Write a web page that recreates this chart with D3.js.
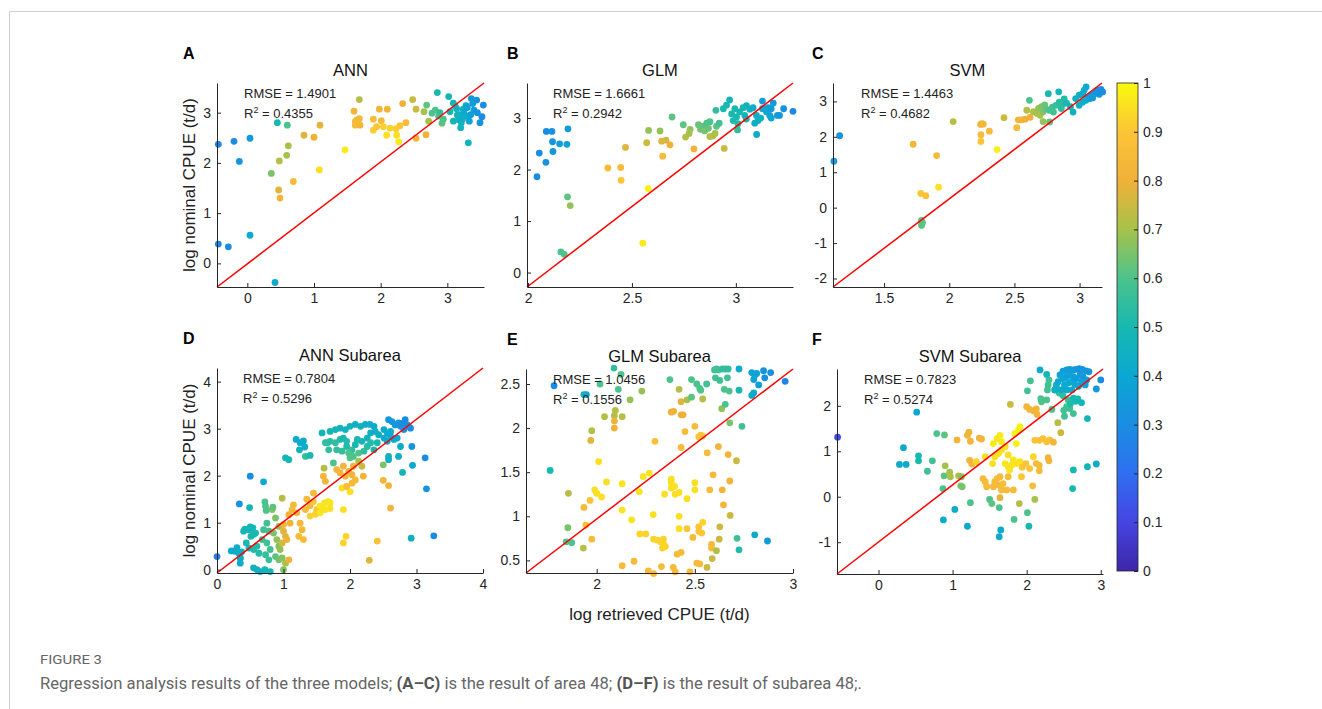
<!DOCTYPE html>
<html><head><meta charset="utf-8">
<script src="https://cdn.jsdelivr.net/npm/d3@7"></script>
<style>body{margin:0;background:#fff}svg{display:block}</style>
</head><body>
<svg id="chart" width="1322" height="709"></svg>
<script>
// ---------------- DATA ----------------
// each point: [retrieved (x), nominal (y), colour value]
const annPts = [[-0.435,2.37,0.28],[-0.435,0.385,0.28],[-0.285,0.33,0.3],[-0.2,2.43,0.3],[-0.12,2.03,0.33],[0.04,2.49,0.35],[0.04,0.56,0.42],[0.415,-0.38,0.42],[0.45,2.80,0.5],[0.6,2.75,0.6],[0.615,2.34,0.7],[0.59,2.15,0.7],[0.48,2.04,0.72],[0.36,1.79,0.65],[0.47,1.46,0.78],[0.49,1.30,0.82],[0.69,1.63,0.85],[0.85,2.55,0.78],[1.0,2.51,0.8],[1.09,2.75,0.78],[1.08,1.86,0.95],[1.465,2.26,0.97],[1.6,3.03,0.82],[1.68,3.26,0.72],[1.64,2.85,0.82],[1.68,2.88,0.84],[1.62,2.75,0.85],[1.69,2.75,0.83],[1.62,2.82,0.84],[1.89,2.87,0.85],[1.98,3.07,0.82],[2.1,3.07,0.82],[2.01,2.84,0.85],[1.89,2.65,0.92],[1.94,2.72,0.9],[2.04,2.72,0.92],[2.14,2.69,0.93],[2.23,2.68,0.92],[2.29,2.74,0.9],[2.09,2.55,0.95],[2.24,2.55,0.95],[2.27,2.42,0.97],[2.38,2.80,0.85],[2.33,3.18,0.8],[2.48,3.26,0.74],[2.53,3.07,0.75],[2.53,2.49,0.82],[2.68,2.56,0.8],[2.65,3.02,0.7],[2.69,3.15,0.62],[2.72,2.83,0.7],[2.82,3.05,0.6],[2.85,3.40,0.5],[2.87,2.93,0.6],[2.92,2.79,0.62],[2.94,2.87,0.6],[3.02,3.32,0.48],[3.09,3.19,0.48],[3.04,3.02,0.5],[3.14,3.08,0.46],[3.19,2.96,0.45],[3.17,2.86,0.45],[3.24,3.07,0.44],[3.21,2.8,0.47],[3.29,2.93,0.44],[3.09,2.83,0.48],[3.2,2.7,0.46],[3.315,2.40,0.46],[3.36,3.28,0.33],[3.44,3.25,0.32],[3.54,3.15,0.3],[3.52,2.92,0.3],[3.49,2.80,0.32],[3.4,3.05,0.35],[3.35,2.96,0.36],[3.33,2.83,0.38],[3.28,3.14,0.4],[2.89,3.0,0.55],[2.77,2.99,0.6],[3.12,3.12,0.46],[3.25,3.0,0.42],[3.3,3.1,0.38],[3.45,3.0,0.33],[3.38,3.18,0.36],[3.15,2.95,0.47],[3.23,2.88,0.43]];

const glmPts = [[2.043,1.86,0.3],[2.054,2.32,0.3],[2.086,2.14,0.32],[2.088,2.74,0.3],[2.115,2.74,0.32],[2.118,2.54,0.33],[2.12,2.35,0.34],[2.152,2.50,0.36],[2.187,2.49,0.38],[2.192,2.79,0.35],[2.19,1.47,0.62],[2.203,1.30,0.68],[2.158,0.40,0.6],[2.174,0.355,0.6],[2.384,2.03,0.85],[2.446,2.04,0.85],[2.448,1.79,0.9],[2.469,2.43,0.78],[2.552,0.57,0.97],[2.578,1.63,0.98],[2.571,2.52,0.75],[2.58,2.76,0.68],[2.635,2.75,0.68],[2.643,2.55,0.78],[2.648,2.26,0.85],[2.664,2.57,0.76],[2.683,2.48,0.8],[2.693,3.02,0.62],[2.747,2.87,0.62],[2.758,2.63,0.72],[2.78,2.78,0.68],[2.775,2.70,0.7],[2.798,2.40,0.82],[2.82,2.87,0.63],[2.83,2.78,0.64],[2.845,2.84,0.62],[2.85,2.75,0.65],[2.86,2.9,0.6],[2.868,2.8,0.63],[2.875,2.93,0.6],[2.875,2.64,0.72],[2.89,2.65,0.72],[2.9,2.7,0.7],[2.907,2.84,0.62],[2.92,2.9,0.58],[2.904,3.15,0.55],[2.94,3.18,0.5],[2.944,2.41,0.75],[2.955,3.25,0.5],[2.97,3.35,0.48],[2.98,3.08,0.5],[2.987,2.95,0.52],[3.003,3.02,0.5],[3.01,2.89,0.52],[3.018,3.12,0.5],[2.995,3.18,0.5],[3.035,3.2,0.48],[3.043,3.05,0.48],[3.051,3.24,0.46],[3.067,3.17,0.46],[3.008,2.77,0.55],[3.083,3.2,0.44],[3.099,3.05,0.44],[3.107,2.95,0.44],[3.091,2.9,0.43],[3.128,3.33,0.35],[3.1,2.68,0.42],[3.128,3.18,0.4],[3.147,3.12,0.4],[3.163,3.05,0.38],[3.155,3.2,0.38],[3.17,3.0,0.4],[3.18,3.29,0.35],[3.17,3.18,0.35],[3.2,3.05,0.36],[3.21,3.05,0.34],[3.23,3.18,0.32],[3.275,3.13,0.28],[3.05,2.98,0.47],[3.12,3.0,0.45]];

const svmPts = [[1.115,1.31,0.35],[1.159,2.03,0.32],[1.723,1.79,0.83],[1.782,0.40,0.9],[1.82,0.34,0.88],[1.787,-0.36,0.62],[1.787,-0.50,0.62],[1.795,-0.42,0.62],[1.903,1.47,0.85],[1.918,0.58,0.95],[2.03,2.43,0.72],[2.241,2.35,0.82],[2.251,2.37,0.82],[2.262,2.36,0.83],[2.243,2.06,0.85],[2.243,1.87,0.9],[2.308,2.16,0.85],[2.367,1.64,0.98],[2.42,2.54,0.75],[2.518,2.26,0.85],[2.53,2.48,0.82],[2.556,2.48,0.82],[2.582,2.5,0.8],[2.62,2.55,0.8],[2.615,3.03,0.6],[2.595,2.75,0.72],[2.646,2.71,0.7],[2.672,2.66,0.7],[2.685,2.8,0.68],[2.697,2.61,0.7],[2.72,2.71,0.66],[2.708,2.85,0.66],[2.733,2.9,0.64],[2.72,2.43,0.68],[2.77,2.42,0.62],[2.76,3.22,0.5],[2.84,3.27,0.48],[2.741,2.79,0.62],[2.767,2.75,0.6],[2.792,2.84,0.58],[2.818,2.89,0.56],[2.844,2.98,0.54],[2.869,2.93,0.54],[2.882,3.07,0.52],[2.95,2.70,0.45],[2.97,3.08,0.45],[2.997,3.18,0.44],[3.023,3.22,0.42],[3.036,3.32,0.42],[3.05,3.41,0.42],[3.062,3.13,0.35],[3.087,3.18,0.34],[3.113,3.22,0.33],[3.126,3.27,0.32],[3.138,3.32,0.32],[3.164,3.34,0.3],[3.177,3.27,0.3],[3.151,3.2,0.32],[2.997,2.89,0.44],[3.023,2.98,0.43],[3.049,3.03,0.42],[2.9,2.95,0.5],[2.93,2.85,0.48],[3.08,3.08,0.38],[3.1,3.1,0.36],[2.8,2.7,0.58],[2.86,2.8,0.54]];

const annSubPts = [[0,0.28,0.25],[0.215,0.40,0.4],[0.27,0.39,0.42],[0.33,0.35,0.42],[0.35,0.25,0.42],[0.35,0.14,0.42],[0.336,1.40,0.32],[0.50,1.99,0.3],[0.70,1.87,0.4],[0.49,1.32,0.48],[0.40,0.82,0.48],[0.48,0.85,0.48],[0.54,0.89,0.5],[0.51,0.71,0.5],[0.58,0.78,0.5],[0.44,0.57,0.5],[0.48,0.46,0.5],[0.55,0.43,0.52],[0.60,0.50,0.52],[0.63,0.35,0.52],[0.55,0.04,0.45],[0.60,0.0,0.45],[0.65,-0.04,0.45],[0.72,0.0,0.48],[0.80,-0.04,0.48],[0.70,0.85,0.58],[0.75,0.99,0.58],[0.78,0.82,0.58],[0.68,0.64,0.56],[0.75,0.57,0.58],[0.80,0.43,0.58],[0.73,0.32,0.56],[0.78,0.21,0.56],[0.73,1.35,0.6],[0.83,1.28,0.68],[0.88,1.10,0.65],[0.93,0.92,0.68],[0.85,0.78,0.65],[0.90,0.64,0.68],[0.93,0.50,0.66],[0.95,0.43,0.68],[0.88,0.28,0.62],[0.93,0.21,0.64],[0.98,0.25,0.66],[1.03,0.14,0.7],[1.00,0.0,0.66],[1.0,0.82,0.78],[1.03,0.71,0.78],[1.05,0.64,0.8],[0.98,0.57,0.76],[0.98,1.52,0.72],[1.0,0.96,0.82],[1.08,1.17,0.82],[1.10,0.99,0.82],[1.13,1.28,0.84],[1.15,1.38,0.84],[1.20,1.21,0.84],[1.25,0.99,0.84],[1.28,0.85,0.84],[1.23,0.71,0.85],[1.30,0.64,0.85],[1.08,0.21,0.8],[1.19,2.77,0.42],[1.25,2.70,0.42],[1.24,2.55,0.45],[1.03,2.38,0.48],[1.08,2.34,0.48],[1.33,2.41,0.55],[1.3,2.74,0.42],[1.32,2.61,0.44],[1.4,2.43,0.5],[0.72,1.44,0.6],[0.74,1.26,0.6],[0.84,1.33,0.62],[0.42,0.86,0.48],[0.5,0.91,0.48],[0.55,0.75,0.5],[0.3,0.47,0.44],[0.32,0.38,0.44],[0.37,0.38,0.44],[0.35,0.24,0.44],[1.35,1.50,0.85],[1.40,1.36,0.86],[1.33,1.28,0.85],[1.45,1.45,0.9],[1.50,1.28,0.9],[1.45,1.63,0.85],[1.40,1.14,0.92],[1.48,1.18,0.92],[1.55,1.35,0.96],[1.60,1.28,0.96],[1.62,1.42,0.96],[1.67,1.45,0.96],[1.70,1.42,0.96],[1.63,1.28,0.96],[1.55,1.21,0.96],[1.70,1.30,0.95],[1.58,2.91,0.48],[1.61,2.16,0.72],[1.60,1.99,0.82],[1.63,1.88,0.82],[1.75,2.27,0.6],[1.66,2.70,0.52],[1.68,2.55,0.55],[1.63,2.70,0.55],[1.70,2.73,0.54],[1.78,2.70,0.55],[1.85,2.77,0.52],[1.90,2.80,0.5],[1.95,2.73,0.52],[1.70,2.94,0.48],[1.78,2.98,0.48],[1.85,3.01,0.47],[1.93,2.98,0.46],[2.0,3.05,0.46],[2.08,3.09,0.45],[2.16,3.05,0.45],[2.23,3.09,0.44],[2.30,3.09,0.43],[2.36,3.05,0.42],[1.80,2.55,0.55],[1.88,2.52,0.55],[1.95,2.62,0.52],[2.03,2.55,0.55],[2.08,2.66,0.5],[2.11,2.77,0.5],[2.18,2.73,0.48],[2.26,2.80,0.46],[2.31,2.91,0.45],[2.38,2.94,0.44],[2.43,2.87,0.44],[2.51,2.98,0.42],[2.56,2.91,0.42],[2.61,2.94,0.42],[1.98,2.48,0.6],[2.0,2.38,0.6],[2.05,2.41,0.6],[2.13,2.48,0.6],[2.21,2.52,0.55],[2.26,2.62,0.53],[2.31,2.70,0.52],[2.36,2.55,0.5],[2.41,2.70,0.5],[2.51,2.80,0.42],[2.56,2.73,0.42],[2.61,2.84,0.4],[2.66,2.77,0.4],[2.71,2.80,0.4],[2.58,3.19,0.34],[2.63,3.15,0.33],[2.68,3.08,0.33],[2.73,3.12,0.32],[2.76,3.05,0.32],[2.81,3.12,0.3],[2.86,3.08,0.3],[2.88,3.05,0.3],[2.81,2.98,0.32],[2.91,3.01,0.3],[2.83,3.19,0.3],[2.76,2.62,0.42],[2.73,2.41,0.45],[2.58,2.41,0.45],[2.58,2.34,0.45],[2.93,2.62,0.33],[2.94,2.22,0.4],[2.79,2.07,0.48],[3.13,2.38,0.3],[3.15,1.72,0.32],[3.26,0.72,0.3],[2.92,0.67,0.45],[2.5,1.9,0.82],[2.58,1.79,0.82],[2.61,1.31,0.82],[2.41,0.61,0.88],[2.29,0.2,0.78],[2.5,2.23,0.65],[1.9,1.28,0.95],[1.9,0.57,0.93],[1.94,0.71,0.93],[2.0,1.66,0.95],[1.88,1.74,0.95],[1.8,2.13,0.82],[1.85,2.06,0.82],[1.9,2.2,0.82],[1.93,1.99,0.82],[1.98,2.09,0.82],[2.03,2.02,0.82],[2.05,2.2,0.82],[2.03,1.84,0.84],[2.08,1.91,0.84],[1.95,1.77,0.86],[2.18,2.2,0.75],[2.13,2.31,0.7],[2.2,1.99,0.82]];

const glmSubPts = [[1.763,1.52,0.5],[1.783,2.48,0.3],[1.856,1.26,0.72],[1.853,0.87,0.65],[1.845,0.71,0.6],[1.873,0.70,0.6],[1.932,0.64,0.72],[1.935,2.38,0.45],[1.948,2.38,0.42],[1.935,1.1,0.85],[1.945,0.9,0.88],[1.966,1.18,0.9],[1.975,0.74,0.85],[1.97,1.86,0.78],[1.975,1.97,0.72],[1.99,1.3,0.95],[2.0,1.26,0.95],[2.025,1.22,0.95],[2.01,1.62,0.95],[2.017,2.5,0.6],[2.04,2.13,0.72],[2.09,2.14,0.72],[2.05,1.39,0.95],[2.088,2.68,0.55],[2.095,2.2,0.72],[2.09,2.08,0.8],[2.09,2.0,0.8],[2.11,2.44,0.6],[2.124,2.61,0.6],[2.13,2.13,0.72],[2.13,1.07,0.96],[2.13,1.37,0.96],[2.17,2.32,0.68],[2.178,0.96,0.96],[2.19,0.49,0.85],[2.13,0.44,0.85],[2.22,0.8,0.93],[2.25,0.8,0.93],[2.23,2.42,0.68],[2.237,1.45,0.96],[2.268,1.49,0.96],[2.217,1.28,0.96],[2.263,0.38,0.85],[2.29,0.35,0.85],[2.297,1.85,0.88],[2.288,1.02,0.95],[2.29,0.74,0.93],[2.31,0.73,0.93],[2.325,0.71,0.93],[2.34,0.74,0.93],[2.35,0.66,0.93],[2.335,0.64,0.93],[2.34,0.69,0.93],[2.33,0.43,0.85],[2.38,2.18,0.8],[2.392,2.19,0.8],[2.373,2.55,0.6],[2.38,1.38,0.95],[2.38,1.32,0.95],[2.397,1.34,0.95],[2.346,1.25,0.95],[2.38,1.42,0.95],[2.4,1.25,0.95],[2.42,1.27,0.95],[2.42,2.44,0.72],[2.43,2.3,0.78],[2.43,2.15,0.8],[2.44,2.15,0.8],[2.43,1.78,0.85],[2.42,1.0,0.95],[2.42,0.86,0.95],[2.41,0.57,0.85],[2.43,0.59,0.85],[2.39,0.42,0.85],[2.40,0.37,0.85],[2.45,1.96,0.85],[2.46,2.32,0.7],[2.46,1.2,0.95],[2.46,0.86,0.9],[2.475,0.37,0.85],[2.483,2.35,0.62],[2.483,2.55,0.6],[2.5,1.38,0.95],[2.5,1.3,0.95],[2.5,2.02,0.85],[2.51,2.5,0.6],[2.525,2.45,0.6],[2.53,2.43,0.6],[2.51,0.47,0.85],[2.525,0.46,0.85],[2.49,0.76,0.85],[2.52,0.88,0.9],[2.52,0.83,0.9],[2.535,0.81,0.9],[2.52,1.9,0.9],[2.53,1.92,0.9],[2.54,1.91,0.9],[2.54,2.33,0.72],[2.54,0.93,0.93],[2.56,2.5,0.58],[2.563,1.72,0.85],[2.562,0.42,0.75],[2.576,1.3,0.85],[2.585,0.64,0.85],[2.585,0.68,0.85],[2.593,1.47,0.85],[2.588,0.52,0.75],[2.6,2.66,0.58],[2.61,2.67,0.58],[2.62,2.66,0.58],[2.605,2.57,0.58],[2.61,0.61,0.72],[2.62,1.79,0.82],[2.627,2.54,0.58],[2.637,2.22,0.68],[2.64,2.67,0.55],[2.655,2.67,0.55],[2.67,2.67,0.55],[2.64,1.3,0.82],[2.627,0.88,0.75],[2.624,0.74,0.75],[2.646,1.13,0.82],[2.65,2.44,0.6],[2.675,2.42,0.6],[2.655,2.27,0.6],[2.666,2.57,0.58],[2.67,1.7,0.82],[2.678,2.06,0.65],[2.68,1.01,0.75],[2.678,1.4,0.82],[2.712,1.63,0.75],[2.715,0.75,0.58],[2.725,0.62,0.52],[2.725,2.43,0.5],[2.725,2.67,0.42],[2.74,2.02,0.58],[2.79,2.37,0.42],[2.8,2.4,0.42],[2.79,2.63,0.38],[2.805,2.6,0.38],[2.815,2.62,0.38],[2.8,2.55,0.38],[2.825,2.49,0.36],[2.805,0.79,0.42],[2.85,2.65,0.32],[2.856,2.57,0.32],[2.886,2.63,0.32],[2.87,0.72,0.35],[2.96,2.53,0.28]];

const svmSubPts = [[-0.552,1.31,0.12],[0.516,1.86,0.4],[0.337,1.08,0.42],[0.283,0.71,0.42],[0.373,0.71,0.42],[0.54,0.9,0.5],[0.54,0.79,0.5],[0.66,0.56,0.58],[0.727,0.79,0.58],[0.786,1.39,0.6],[0.89,1.36,0.62],[0.9,0.68,0.7],[0.885,0.46,0.62],[0.87,0.18,0.6],[0.876,-0.51,0.42],[0.96,0.54,0.7],[0.97,0.44,0.7],[1.03,-0.28,0.42],[1.06,1.25,0.82],[1.08,0.46,0.72],[1.12,0.44,0.65],[1.13,0.22,0.65],[1.11,0.24,0.65],[1.2,-0.65,0.42],[1.24,-0.13,0.6],[1.2,1.35,0.82],[1.24,1.22,0.82],[1.22,1.42,0.82],[1.36,1.29,0.82],[1.39,1.27,0.82],[1.23,0.8,0.82],[1.26,0.72,0.82],[1.32,0.77,0.93],[1.41,0.4,0.85],[1.44,0.33,0.85],[1.46,0.22,0.85],[1.44,0.88,0.95],[1.5,-0.06,0.6],[1.53,-0.15,0.62],[1.55,0.22,0.85],[1.6,0.4,0.85],[1.64,0.44,0.85],[1.62,0.26,0.85],[1.66,0.15,0.85],[1.68,0.29,0.85],[1.57,0.33,0.85],[1.54,0.73,0.95],[1.57,0.88,0.95],[1.62,0.95,0.95],[1.66,1.03,0.95],[1.71,1.1,0.95],[1.75,0.92,0.95],[1.55,1.17,0.97],[1.6,1.28,0.97],[1.64,1.35,0.97],[1.66,1.21,0.97],[1.64,-0.02,0.78],[1.63,-0.24,0.6],[1.65,-0.73,0.42],[1.63,-0.88,0.42],[1.71,0.73,0.96],[1.75,0.66,0.96],[1.8,0.7,0.96],[1.82,0.81,0.96],[1.86,0.73,0.96],[1.91,0.77,0.96],[1.77,0.59,0.96],[1.75,0.44,0.85],[1.73,0.15,0.85],[1.82,0.15,0.85],[1.78,2.03,0.75],[1.83,-0.5,0.6],[1.86,1.17,0.98],[1.89,1.47,0.98],[1.91,1.54,0.98],[1.84,1.39,0.98],[1.9,-0.15,0.72],[1.93,0.44,0.9],[1.94,0.65,0.9],[1.99,0.73,0.9],[2.04,0.62,0.9],[2.0,1.98,0.82],[2.04,1.92,0.82],[2.09,1.89,0.82],[2.13,1.93,0.82],[2.14,1.81,0.82],[2.01,-0.35,0.6],[2.03,-0.65,0.5],[2.08,0.24,0.85],[2.09,0.88,0.93],[2.11,1.24,0.88],[2.17,1.24,0.88],[2.22,1.28,0.88],[2.27,1.21,0.88],[2.31,1.25,0.88],[2.11,-0.06,0.7],[2.13,0.73,0.85],[2.17,0.69,0.85],[2.17,0.57,0.85],[2.18,2.79,0.42],[2.2,2.09,0.6],[2.27,2.13,0.6],[2.19,2.16,0.6],[2.29,0.86,0.82],[2.3,0.79,0.82],[2.36,1.2,0.82],[2.28,2.35,0.58],[2.29,2.46,0.58],[2.3,2.57,0.58],[2.27,2.69,0.48],[2.05,2.55,0.58],[2.01,2.33,0.58],[2.34,1.92,0.6],[2.38,2.35,0.55],[2.4,2.41,0.55],[2.44,2.28,0.55],[2.49,2.22,0.55],[2.42,1.63,0.72],[2.46,1.41,0.75],[2.5,1.9,0.58],[2.54,1.98,0.58],[2.58,1.94,0.58],[2.63,1.83,0.58],[2.56,2.13,0.58],[2.51,1.77,0.58],[2.59,2.04,0.52],[2.63,2.17,0.5],[2.66,2.1,0.5],[2.69,2.15,0.5],[2.63,0.59,0.5],[2.62,0.18,0.5],[2.74,2.07,0.48],[2.82,1.72,0.48],[2.82,0.66,0.48],[2.94,0.72,0.42],[2.94,2.37,0.33],[3.0,2.57,0.3],[2.4,2.46,0.45],[2.38,2.35,0.45],[2.47,2.35,0.42],[2.54,2.35,0.42],[2.61,2.35,0.42],[2.51,2.46,0.4],[2.56,2.5,0.4],[2.61,2.53,0.4],[2.65,2.47,0.4],[2.7,2.43,0.4],[2.425,2.53,0.4],[2.74,2.53,0.38],[2.79,2.46,0.38],[2.49,2.6,0.38],[2.54,2.64,0.38],[2.58,2.68,0.37],[2.63,2.64,0.37],[2.67,2.6,0.36],[2.72,2.68,0.35],[2.76,2.64,0.35],[2.81,2.57,0.35],[2.45,2.68,0.38],[2.49,2.76,0.36],[2.54,2.79,0.36],[2.58,2.8,0.36],[2.63,2.79,0.35],[2.67,2.8,0.34],[2.71,2.82,0.33],[2.75,2.8,0.33],[2.8,2.77,0.33],[2.84,2.75,0.33]];

const panelSeries = [annPts, glmPts, svmPts, annSubPts, glmSubPts, svmSubPts];
const panelLetters = ["A", "B", "C", "D", "E", "F"];
const panelTitles = ["ANN", "GLM", "SVM", "ANN Subarea", "GLM Subarea", "SVM Subarea"];
const rmseValues = ["1.4901", "1.6661", "1.4463", "0.7804", "1.0456", "0.7823"];
const r2Values = ["0.4355", "0.2942", "0.4682", "0.5296", "0.1556", "0.5274"];
const xLimits = [[-0.455, 3.55], [1.995, 3.275], [1.108, 3.172], [0, 4], [1.64, 3.0], [-0.56, 3.03]];
const yLimits = [[-0.47, 3.59], [-0.28, 3.68], [-2.24, 3.52], [-0.07, 4.29], [0.357, 2.67], [-1.70, 2.81]];
const xTickValues = [[0, 1, 2, 3], [2, 2.5, 3], [1.5, 2, 2.5, 3], [0, 1, 2, 3, 4], [2, 2.5, 3], [0, 1, 2, 3]];
const yTickValues = [[0, 1, 2, 3], [0, 1, 2, 3], [-2, -1, 0, 1, 2, 3], [0, 1, 2, 3, 4], [0.5, 1, 1.5, 2, 2.5], [-1, 0, 1, 2]];
const colorbarTicks = [0, 0.1, 0.2, 0.3, 0.4, 0.5, 0.6, 0.7, 0.8, 0.9, 1];
const yAxisLabel = "log nominal CPUE (t/d)";
const xAxisLabel = "log retrieved CPUE (t/d)";
const figureLabel = "FIGURE 3";
const captionParts = [["Regression analysis results of the three models; ", false], ["(A–C)", true], [" is the result of area 48; ", false], ["(D–F)", true], [" is the result of subarea 48;.", false]];

// parula-like colormap stops (as seen on the colour bar)
const parulaPos = [0, 0.1, 0.2, 0.3, 0.4, 0.5, 0.6, 0.7, 0.8, 0.9, 1];
const parulaCol = ["#3e26a8", "#4545e2", "#2f6ff0", "#1a8de2", "#0aa8d2", "#17b8b0", "#4cc38c", "#a6c24a", "#f0b139", "#fcc437", "#f9fa0e"];

// ---------------- LAYOUT ----------------
const boxes = [
  {l: 217, r: 484, t: 83, b: 287}, {l: 527, r: 793, t: 83, b: 287}, {l: 833, r: 1102, t: 83, b: 287},
  {l: 217, r: 483, t: 368, b: 573}, {l: 526, r: 793, t: 369, b: 573}, {l: 837, r: 1103, t: 369, b: 574}
];
const FONT = "'Liberation Sans', Arial, Helvetica, sans-serif";
const svg = d3.select("#chart");
const color = d3.scaleLinear().domain(parulaPos).range(parulaCol).interpolate(d3.interpolateRgb).clamp(true);

// frame lines
svg.append("line").attr("x1", 9.5).attr("x2", 9.5).attr("y1", 11.5).attr("y2", 709).attr("stroke", "#cfcfcf");
svg.append("line").attr("x1", 9.5).attr("x2", 1322).attr("y1", 11.5).attr("y2", 11.5).attr("stroke", "#cfcfcf");

panelSeries.forEach((pts, i) => {
  const b = boxes[i];
  const x = d3.scaleLinear().domain(xLimits[i]).range([b.l, b.r]);
  const y = d3.scaleLinear().domain(yLimits[i]).range([b.b, b.t]);
  const g = svg.append("g");
  const clipId = "clip" + i;
  svg.append("clipPath").attr("id", clipId).append("rect")
    .attr("x", b.l - 4).attr("y", b.t - 4).attr("width", b.r - b.l + 8).attr("height", b.b - b.t + 8);

  g.append("g").attr("clip-path", `url(#${clipId})`).selectAll("circle").data(pts).join("circle")
    .attr("cx", d => x(d[0])).attr("cy", d => y(d[1])).attr("r", 3.4)
    .attr("fill", d => color(d[2]));

  // red diagonal
  g.append("line")
    .attr("x1", x(xLimits[i][0])).attr("y1", y(yLimits[i][0]))
    .attr("x2", x(xLimits[i][1])).attr("y2", y(yLimits[i][1]))
    .attr("stroke", "#ff0000").attr("stroke-width", 1.5);

  const fmt = d => String(d);
  const xa = g.append("g").attr("transform", `translate(0,${b.b})`)
    .call(d3.axisBottom(x).tickValues(xTickValues[i]).tickFormat(fmt).tickSizeInner(-4).tickSizeOuter(0).tickPadding(6));
  const ya = g.append("g").attr("transform", `translate(${b.l},0)`)
    .call(d3.axisLeft(y).tickValues(yTickValues[i]).tickFormat(fmt).tickSizeInner(-4).tickSizeOuter(0).tickPadding(6));
  [xa, ya].forEach(a => {
    a.select(".domain").attr("stroke", "#262626").attr("stroke-width", 1);
    a.selectAll(".tick line").attr("stroke", "#262626");
    a.selectAll("text").attr("fill", "#262626").style("font-family", FONT).style("font-size", "14px");
  });

  // title
  g.append("text").attr("x", (b.l + b.r) / 2).attr("y", b.t - 7).attr("text-anchor", "middle")
    .style("font-family", FONT).style("font-size", "16.5px").attr("fill", "#111").text(panelTitles[i]);
  // letter
  g.append("text").attr("x", i % 3 === 0 ? 183 : (i % 3 === 1 ? 507 : 812)).attr("y", b.t - 24)
    .style("font-family", FONT).style("font-size", "16px").style("font-weight", "bold").attr("fill", "#000").text(panelLetters[i]);
  // stats
  const sx = [244, 553, 861, 243, 553, 864][i];
  g.append("text").attr("x", sx).attr("y", b.t + 15).style("font-family", FONT).style("font-size", "13px")
    .attr("fill", "#222").text("RMSE = " + rmseValues[i]);
  const rt = g.append("text").attr("x", sx).attr("y", b.t + 35).style("font-family", FONT).style("font-size", "13px").attr("fill", "#222");
  rt.append("tspan").text("R");
  rt.append("tspan").attr("dy", -5).style("font-size", "9px").text("2");
  rt.append("tspan").attr("dy", 5).text(" = " + r2Values[i]);

  if (i % 3 === 0) {
    g.append("text").attr("transform", `translate(195,${(b.t + b.b) / 2}) rotate(-90)`).attr("text-anchor", "middle")
      .style("font-family", FONT).style("font-size", "17px").attr("fill", "#222").text(yAxisLabel);
  }
  if (i === 4) {
    g.append("text").attr("x", (b.l + b.r) / 2).attr("y", b.b + 47).attr("text-anchor", "middle")
      .style("font-family", FONT).style("font-size", "17px").attr("fill", "#222").text(xAxisLabel);
  }
});

// colorbar
const cb = {l: 1117, r: 1138, t: 83, b: 571};
const cy = d3.scaleLinear().domain([0, 1]).range([cb.b, cb.t]);
const defs = svg.append("defs");
const grad = defs.append("linearGradient").attr("id", "parula").attr("x1", 0).attr("x2", 0).attr("y1", 1).attr("y2", 0);
parulaPos.forEach((p, k) => grad.append("stop").attr("offset", p).attr("stop-color", parulaCol[k]));
svg.append("rect").attr("x", cb.l).attr("y", cb.t).attr("width", cb.r - cb.l).attr("height", cb.b - cb.t)
  .attr("fill", "url(#parula)").attr("stroke", "#262626").attr("stroke-width", 0.8);
const cAxis = svg.append("g").attr("transform", `translate(${cb.r},0)`)
  .call(d3.axisRight(cy).tickValues(colorbarTicks).tickFormat(d => String(d)).tickSizeInner(-4).tickSizeOuter(0).tickPadding(5));
cAxis.select(".domain").remove();
cAxis.selectAll(".tick line").attr("stroke", "#262626");
cAxis.selectAll("text").attr("fill", "#262626").style("font-family", FONT).style("font-size", "14px");

// caption
svg.append("text").attr("x", 40).attr("y", 664).style("font-family", "'Liberation Sans Narrow', Roboto, sans-serif")
  .style("font-size", "13px").attr("fill", "#666").attr("textLength", 62).attr("lengthAdjust", "spacingAndGlyphs").text(figureLabel);
const cap = svg.append("text").attr("x", 40).attr("y", 689).style("font-family", "'Liberation Sans Narrow', Roboto, sans-serif")
  .style("font-size", "16.5px").attr("fill", "#666").attr("textLength", 822).attr("lengthAdjust", "spacingAndGlyphs");
captionParts.forEach(([t, bold]) => cap.append("tspan").style("font-weight", bold ? "bold" : "normal").attr("fill", bold ? "#555" : "#666").text(t));
</script>
</body></html>
